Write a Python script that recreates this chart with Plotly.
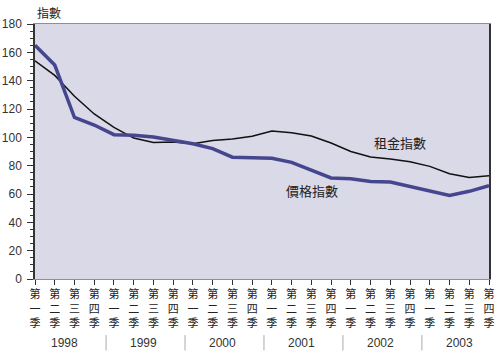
import plotly.graph_objects as go

quarters = ["第<br>一<br>季", "第<br>二<br>季", "第<br>三<br>季", "第<br>四<br>季"] * 6
years = ["1998", "1999", "2000", "2001", "2002", "2003"]
rent_index = [154, 143.7, 129, 116.5, 107, 99.5, 96.4, 96.7, 95.5, 97.8, 98.8, 100.7,
              104.5, 103.3, 101, 96, 90, 86.1, 84.7, 82.8, 79.5, 74.3, 71.7, 72.9]
price_index = [165, 151, 114, 108.7, 101.9, 101.5, 100.2, 97.6, 95.5, 92, 86, 85.6,
               85.2, 82.3, 76.5, 71.3, 70.8, 68.9, 68.5, 65.4, 62.6, 59, 61.9, 65.9]
x = list(range(len(quarters)))

fig = go.Figure()
fig.add_trace(go.Scatter(x=x, y=rent_index, mode="lines", name="租金指數",
                         line=dict(color="#111111", width=1.5)))
fig.add_trace(go.Scatter(x=x, y=price_index, mode="lines", name="價格指數",
                         line=dict(color="#46468F", width=3.5)))

cjk = "Noto Sans CJK TC"
fig.update_layout(
    width=500, height=360,
    margin=dict(l=35, r=11, t=24, b=81),
    paper_bgcolor="white", plot_bgcolor="#D9D9E8",
    showlegend=False,
    xaxis=dict(range=[0, 23], tickvals=x, ticktext=quarters, tickangle=0,
               automargin=False,
               showgrid=False, zeroline=False,
               showline=True, linecolor="#8E8E9E", linewidth=1, mirror=True,
               ticks="outside", ticklen=5, tickcolor="#333333",
               tickfont=dict(family=cjk, size=11, color="#222222")),
    yaxis=dict(range=[0, 180], tickvals=list(range(0, 181, 20)),
               automargin=False,
               showgrid=False, zeroline=False,
               showline=True, linecolor="#333333", linewidth=1.5, mirror=True,
               ticks="outside", ticklen=6, tickcolor="#333333",
               ticklabelstandoff=3,
               minor=dict(dtick=5, ticks="outside", ticklen=3, tickcolor="#333333"),
               tickfont=dict(family="Liberation Sans, Arial", size=12, color="#333333")),
)

# axis title
fig.add_annotation(text="指數", xref="paper", yref="paper", x=0.0, y=1.0,
                   xanchor="left", yanchor="bottom", yshift=1, showarrow=False,
                   font=dict(family=cjk, size=12, color="#222222"))

# series labels
fig.add_annotation(text="租金指數", x=18.5, y=96.5, showarrow=False,
                   font=dict(family=cjk, size=13, color="#222222"))
fig.add_annotation(text="價格指數", x=14.05, y=62.5, showarrow=False,
                   font=dict(family=cjk, size=13, color="#222222"))

# year labels and separators
for i, yr in enumerate(years):
    fig.add_annotation(text=yr, x=1.5 + 4 * i, xref="x", y=-0.251, yref="paper",
                       yanchor="middle", showarrow=False,
                       font=dict(family="Liberation Sans, Arial", size=12, color="#333333"))
for i in range(1, len(years)):
    xs = 4 * i - 0.4
    fig.add_shape(type="line", xref="x", yref="paper", x0=xs, x1=xs,
                  y0=-0.22, y1=-0.28, line=dict(color="#AAAAAA", width=1))

fig.write_html("out.html", config={"displayModeBar": False},
               post_script="document.body.style.margin='0';document.body.style.overflow='hidden';")
